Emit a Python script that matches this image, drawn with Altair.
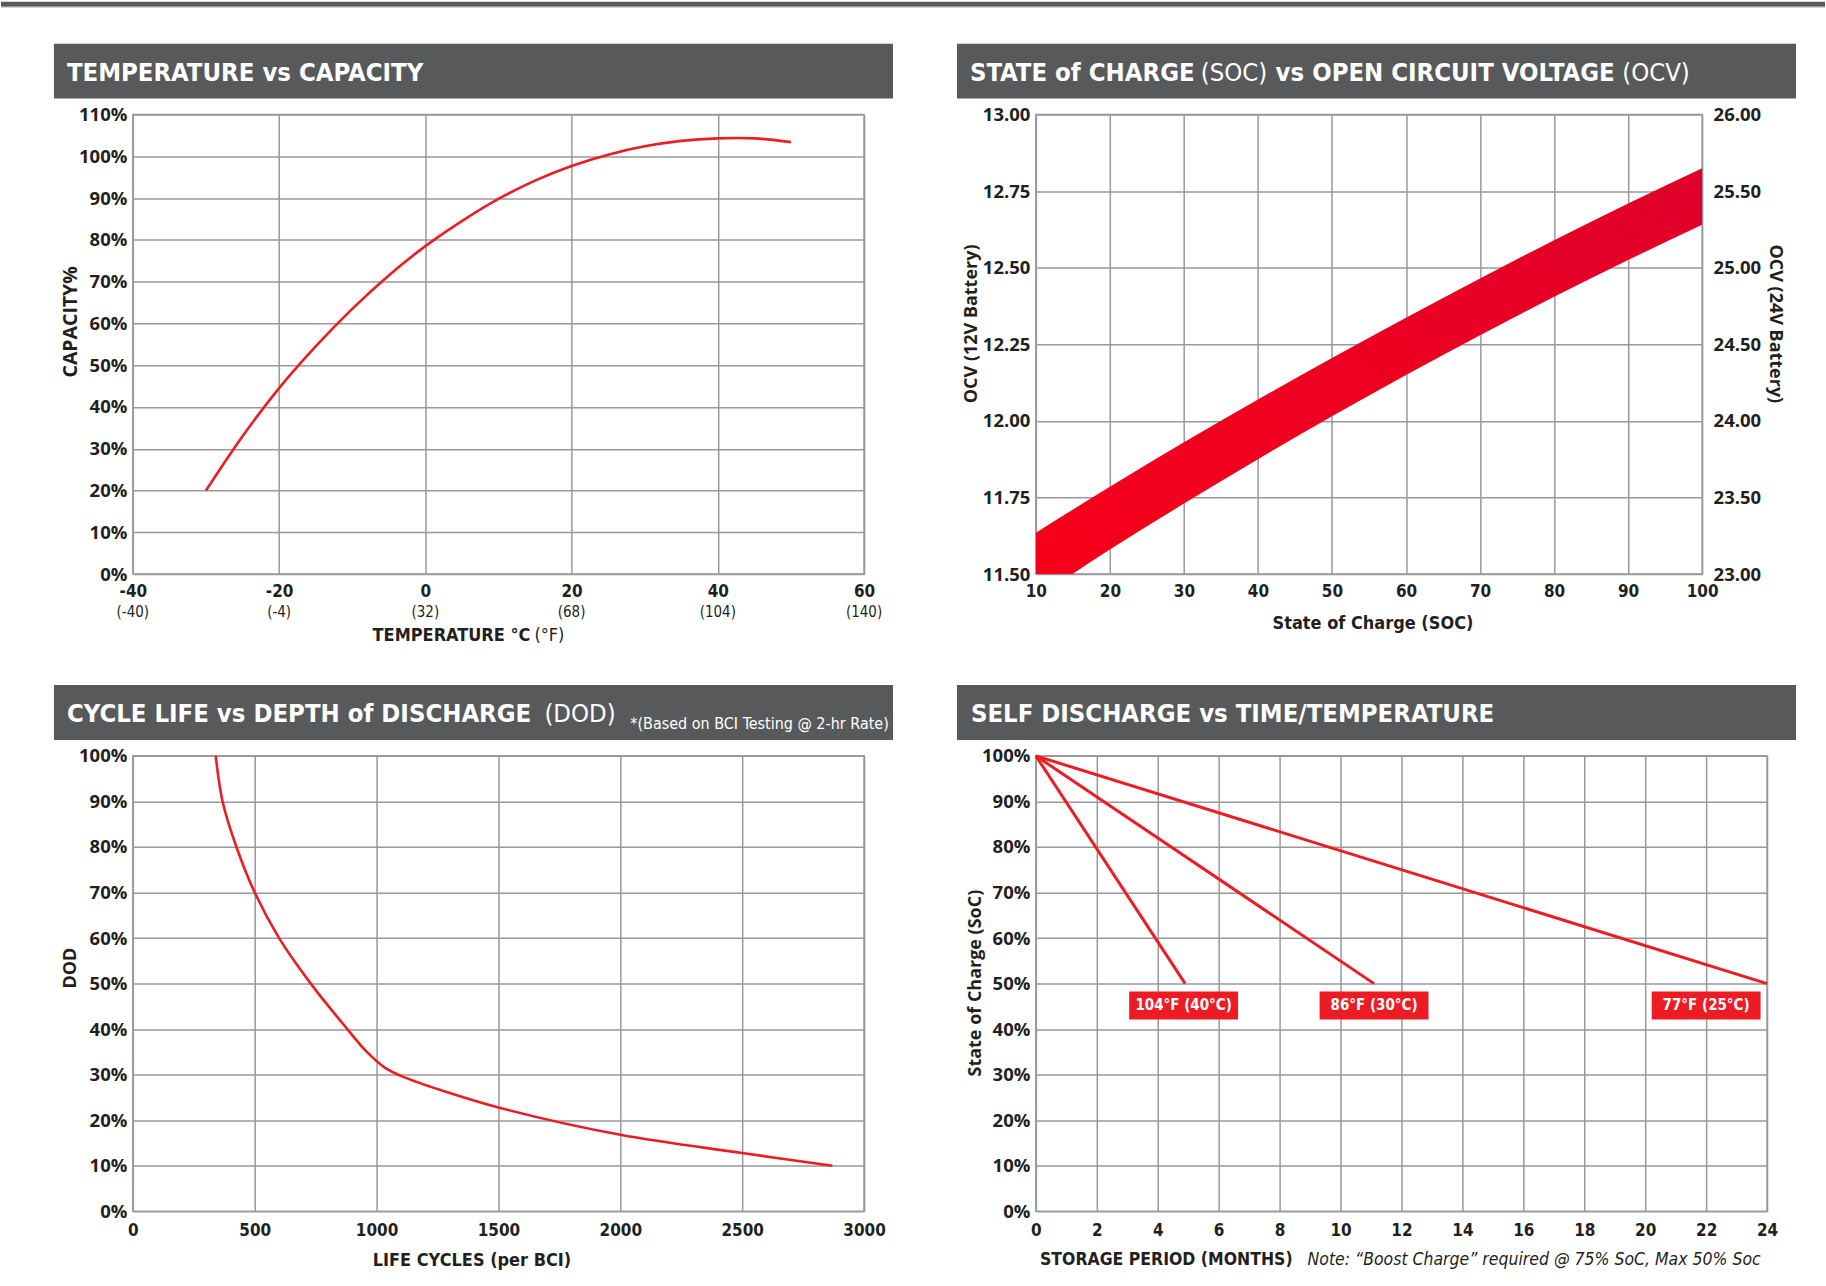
import altair as alt
import pandas as pd

# ---------------- data ----------------
# Temperature vs capacity
temp_c = [-30, -25, -20, -15, -10, -5, 0, 5, 10, 15, 20, 25, 30, 35, 40, 45, 50]
capacity_pct = [20, 33, 44.5, 54.5, 63.5, 71.5, 78.5, 84.5, 89.8, 94.2, 97.7, 100.4, 102.4, 103.7, 104.3, 104.3, 103.4]
temp_ticks_c = [-40, -20, 0, 20, 40, 60]
temp_ticks_f = ["(-40)", "(-4)", "(32)", "(68)", "(104)", "(140)"]
capacity_ticks = [0, 10, 20, 30, 40, 50, 60, 70, 80, 90, 100, 110]

# State of charge vs open circuit voltage (band)
soc = [10, 20, 30, 40, 50, 60, 70, 80, 90, 100]
ocv_12v_high = [11.635, 11.785, 11.93, 12.07, 12.205, 12.337, 12.465, 12.59, 12.71, 12.825]
ocv_12v_low = [11.42, 11.58, 11.73, 11.875, 12.015, 12.15, 12.28, 12.405, 12.525, 12.64]
soc_ticks = [10, 20, 30, 40, 50, 60, 70, 80, 90, 100]
ocv12_ticks = [11.5, 11.75, 12.0, 12.25, 12.5, 12.75, 13.0]
ocv24_ticks = [23.0, 23.5, 24.0, 24.5, 25.0, 25.5, 26.0]

# Cycle life vs depth of discharge
life_cycles = [340, 368, 425, 500, 600, 730, 880, 960, 1035, 1120, 1270, 1500, 2000, 2500, 2870]
dod_pct = [100, 90, 80, 70, 60, 50, 40, 35, 31.5, 29.3, 26.5, 22.8, 16.8, 12.8, 10]
cycle_ticks = [0, 500, 1000, 1500, 2000, 2500, 3000]
pct_ticks = [0, 10, 20, 30, 40, 50, 60, 70, 80, 90, 100]

# Self discharge vs time / temperature
sd_series = ["104°F (40°C)", "86°F (30°C)", "77°F (25°C)"]
sd_start_months = [0, 0, 0]
sd_start_soc = [100, 100, 100]
sd_end_months = [4.9, 11.1, 24]
sd_end_soc = [50, 50, 50]
sd_label_months = [4.85, 11.1, 22.0]
sd_label_soc = [45.2, 45.2, 45.2]
month_ticks = [0, 2, 4, 6, 8, 10, 12, 14, 16, 18, 20, 22, 24]

# ---------------- style ----------------
RED = "#ed1c24"
BANNER = "#58595b"
INK = "#231f20"
GRID = "#999999"
NARROW = "Liberation Sans Narrow, Arial Narrow, DejaVu Sans Condensed, sans-serif"
SANS = "Open Sans, sans-serif"

one = pd.DataFrame({"k": [0]})


def deco_rect(x, x2, y, y2, color):
    return alt.Chart(one).mark_rect(color=color).encode(
        x=alt.value(x), x2=alt.value(x2), y=alt.value(y), y2=alt.value(y2))


def deco_text(txt, x, y, size, weight="bold", color="white", align="left",
              font=NARROW, baseline="alphabetic", style="normal"):
    return alt.Chart(one).mark_text(
        text=txt, align=align, baseline=baseline, font=font, fontSize=size,
        fontWeight=weight, fontStyle=style, color=color).encode(
        x=alt.value(x), y=alt.value(y))


def banner():
    return deco_rect(-79, 761, -71, -16, BANNER)


TS = 25.5    # title font size
TY = -34     # title baseline


def x_axis(values, pad, expr="datum.value + ''", title=None, titleX=None, titleY=None):
    kw = dict(values=values, labelFont=NARROW, labelFontSize=17, labelFontWeight="bold",
              labelPadding=pad, labelBaseline="middle", grid=True, title=title,
              labelExpr=expr)
    if title:
        kw.update(titleFont=NARROW, titleFontSize=18, titleFontWeight="bold",
                  titleBaseline="middle", titleX=titleX, titleY=titleY)
    return alt.Axis(**kw)


def y_axis(values, title, titleX, titleY, expr=None, fmt=None, orient="left",
           grid=True, pad=6, angle=-90, tsize=18):
    kw = dict(values=values, labelFont=SANS, labelFontSize=18.5, labelFontWeight="bold",
              labelPadding=pad, grid=grid, orient=orient, title=title,
              titleFont=SANS, titleFontSize=tsize, titleFontWeight="bold",
              titleBaseline="middle", titleX=titleX, titleY=titleY, titleAngle=angle)
    if expr:
        kw["labelExpr"] = expr
    if fmt:
        kw["format"] = fmt
    return alt.Axis(**kw)


# ---------------- panel 1 ----------------
W1, H1 = 732, 460
temp_df = pd.DataFrame({"temp_c": temp_c, "capacity": capacity_pct})
fahr_df = pd.DataFrame({"temp_c": temp_ticks_c, "fahr": temp_ticks_f})
x1_scale = alt.Scale(domain=[-40, 60], nice=False, zero=False)
x1_axis = x_axis(temp_ticks_c, 17)
y1 = alt.Y("capacity:Q", scale=alt.Scale(domain=[0, 110], nice=False),
           axis=y_axis(capacity_ticks, "CAPACITY%", -62, 207, expr="datum.value + '%'", tsize=19.5))

line1 = alt.Chart(temp_df).mark_line(color=RED, strokeWidth=2.6, interpolate="catmull-rom").encode(
    x=alt.X("temp_c:Q", scale=x1_scale, axis=x1_axis), y=y1)
fahr = alt.Chart(fahr_df).mark_text(font=NARROW, fontSize=15, color=INK, baseline="middle").encode(
    x=alt.X("temp_c:Q", scale=x1_scale, axis=x1_axis), y=alt.value(H1 + 38), text="fahr:N")

p1 = alt.layer(
    deco_rect(-132, 1694, -113, -108, BANNER),
    deco_rect(-132, 1694, -108, -107, "#c8c8c8"),
    banner(),
    deco_text("TEMPERATURE vs CAPACITY", -66, TY, TS),
    line1, fahr,
    deco_text("TEMPERATURE °C", 398, H1 + 62, 18, color=INK, align="right", baseline="middle"),
    deco_text("(°F)", 402, H1 + 62, 18, weight="normal", color=INK, baseline="middle"),
).properties(width=W1, height=H1)

# ---------------- panel 2 ----------------
W2, H2 = 667, 460
ocv_df = pd.DataFrame({"soc": soc, "hi": ocv_12v_high, "lo": ocv_12v_low})
r24_df = pd.DataFrame({"ocv24": ocv24_ticks})
band_color = alt.Gradient(
    gradient="linear",
    stops=[alt.GradientStop(color="#f7001a", offset=0),
           alt.GradientStop(color="#ee0020", offset=0.45),
           alt.GradientStop(color="#e0002b", offset=1)],
    x1=0, x2=1, y1=1, y2=0)
band = alt.Chart(ocv_df).mark_area(color=band_color, clip=True, interpolate="monotone").encode(
    x=alt.X("soc:Q", scale=alt.Scale(domain=[10, 100], nice=False, zero=False),
            axis=x_axis(soc_ticks, 17, title="State of Charge (SOC)", titleX=337, titleY=49)),
    y=alt.Y("hi:Q", scale=alt.Scale(domain=[11.5, 13.0], nice=False, zero=False),
            axis=y_axis(ocv12_ticks, "OCV (12V Battery)", -64, 209, fmt=".2f")),
    y2="lo:Q")
right_axis = alt.Chart(r24_df).mark_point(opacity=0).encode(
    x=alt.value(0),
    y=alt.Y("ocv24:Q", scale=alt.Scale(domain=[23.0, 26.0], nice=False, zero=False),
            axis=y_axis(ocv24_ticks, "OCV (24V Battery)", 72, 209, fmt=".2f",
                        orient="right", grid=False, pad=11, angle=90)))

p2 = alt.layer(
    banner(),
    deco_text("STATE of CHARGE", -66, TY, TS),
    deco_text("(SOC)", 165, TY, TS, weight="normal"),
    deco_text("vs OPEN CIRCUIT VOLTAGE", 240, TY, TS),
    deco_text("(OCV)", 587, TY, TS, weight="normal"),
    band, right_axis,
).resolve_scale(y="independent").properties(width=W2, height=H2)

# ---------------- panel 3 ----------------
W3, H3 = 732, 456
cyc_df = pd.DataFrame({"cycles": life_cycles, "dod": dod_pct})
line3 = alt.Chart(cyc_df).mark_line(color=RED, strokeWidth=2.6, interpolate="catmull-rom").encode(
    x=alt.X("cycles:Q", scale=alt.Scale(domain=[0, 3000], nice=False),
            axis=x_axis(cycle_ticks, 19, title="LIFE CYCLES (per BCI)", titleX=339, titleY=49)),
    y=alt.Y("dod:Q", scale=alt.Scale(domain=[0, 100], nice=False),
            axis=y_axis(pct_ticks, "DOD", -62, 212, expr="datum.value + '%'")))

p3 = alt.layer(
    banner(),
    deco_text("CYCLE LIFE vs DEPTH of DISCHARGE", -66, TY, TS),
    deco_text("(DOD)", 412, TY, TS, weight="normal"),
    deco_text("*(Based on BCI Testing @ 2-hr Rate)", 498, -32, 16, weight="normal", baseline="middle"),
    line3,
).properties(width=W3, height=H3)

# ---------------- panel 4 ----------------
W4, H4 = 732, 456
sd_rows = []
for s, m0, s0, m1, s1 in zip(sd_series, sd_start_months, sd_start_soc, sd_end_months, sd_end_soc):
    sd_rows.append({"series": s, "month": m0, "soc": s0})
    sd_rows.append({"series": s, "month": m1, "soc": s1})
sd_df = pd.DataFrame(sd_rows)
lab_df = pd.DataFrame({"series": sd_series, "month": sd_label_months, "soc": sd_label_soc})

x4 = alt.X("month:Q", scale=alt.Scale(domain=[0, 24], nice=False),
           axis=x_axis(month_ticks, 19))
y4 = alt.Y("soc:Q", scale=alt.Scale(domain=[0, 100], nice=False),
           axis=y_axis(pct_ticks, "State of Charge (SoC)", -60, 227, expr="datum.value + '%'"))

lines4 = alt.Chart(sd_df).mark_line(color=RED, strokeWidth=3).encode(x=x4, y=y4, detail="series:N")
boxes = alt.Chart(lab_df).mark_point(
    shape="M-1,-0.257L1,-0.257L1,0.257L-1,0.257Z", filled=True, fill=RED, opacity=1,
    size=109 * 109, strokeWidth=0).encode(x=x4, y=y4)
labels = alt.Chart(lab_df).mark_text(font=NARROW, fontSize=15, fontWeight="bold", color="white",
                                     baseline="middle").encode(x=x4, y=y4, text="series:N")

p4 = alt.layer(
    banner(),
    deco_text("SELF DISCHARGE vs TIME/TEMPERATURE", -65, TY, TS),
    lines4, boxes, labels,
    deco_text("STORAGE PERIOD (MONTHS)", 257, H4 + 49, 17.5, color=INK, align="right", baseline="middle"),
    deco_text("Note: \u201cBoost Charge\u201d required @ 75% SoC, Max 50% Soc", 272, H4 + 49, 17.5,
              weight="normal", style="italic", color=INK, baseline="middle"),
).properties(width=W4, height=H4)

chart = alt.concat(
    p1, p2, p3, p4, columns=2, spacing={"row": 182, "column": 172}, bounds="flush"
).properties(padding=0).configure(background="white").configure_view(
    stroke=GRID, strokeWidth=1.5
).configure_axis(
    labelColor=INK, titleColor=INK, gridColor=GRID, gridWidth=1.5, domain=False,
    ticks=False, labelFlush=False, labelOverlap=False, labelBound=False
)

chart.save("out.html", embed_options={"renderer": "svg", "actions": False})
